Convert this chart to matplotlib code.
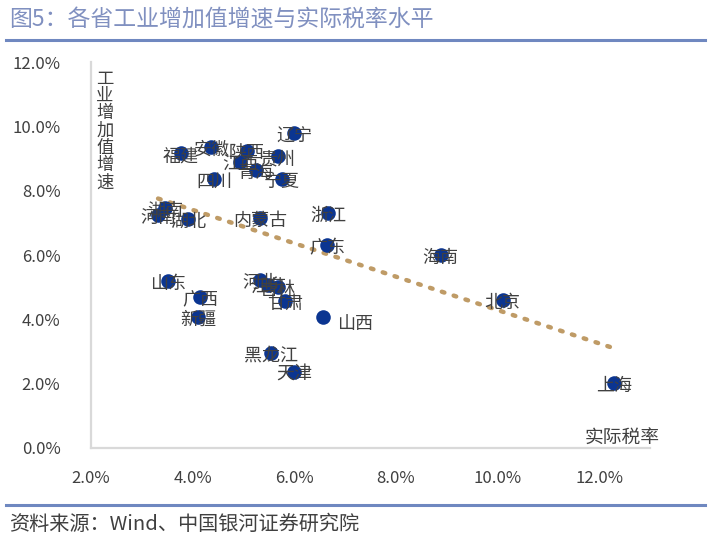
import matplotlib
matplotlib.use("Agg")
import matplotlib.pyplot as plt
import numpy as np

plt.rcParams['font.family'] = ['Noto Sans CJK SC', 'DejaVu Sans']

# 数据：实际税率 (%) 与 工业增加值增速 (%)
provinces = ["辽宁", "福建", "安徽", "陕西", "江西", "贵州", "青海", "宁夏", "四川",
             "湖南", "河南", "湖北", "内蒙古", "浙江", "广东", "海南", "北京", "上海",
             "山东", "广西", "新疆", "河北", "江苏", "吉林", "甘肃", "山西", "黑龙江", "天津"]
tax_rate = [6.00, 3.77, 4.37, 5.07, 4.94, 5.68, 5.25, 5.76, 4.42,
            3.46, 3.32, 3.91, 5.33, 6.67, 6.65, 8.88, 10.10, 12.30,
            3.52, 4.15, 4.11, 5.33, 5.49, 5.67, 5.82, 6.57, 5.55, 6.00]
growth = [9.78, 9.16, 9.35, 9.22, 8.88, 9.07, 8.63, 8.35, 8.35,
          7.45, 7.24, 7.11, 7.14, 7.30, 6.30, 5.99, 4.60, 2.02,
          5.19, 4.69, 4.07, 5.22, 5.06, 5.00, 4.56, 4.07, 2.95, 2.36]

# 图中趋势线（读取自原图）
trend_slope = -0.519
trend_intercept = 9.48

x = np.array(tax_rate)
y = np.array(growth)

blue = "#0b3591"
gray = "#404040"

fig = plt.figure(figsize=(7.25, 5.4), dpi=100)
ax = fig.add_axes([0.1255, 0.1704, 0.7711, 0.7146])

ax.scatter(x, y, s=110, color=blue, zorder=3, linewidths=0)

# 线性趋势线
xt = np.array([x.min(), x.max()])
ax.plot(xt, trend_slope * xt + trend_intercept, linestyle=(0, (0.6, 2.2)),
        color="#bf9b66", lw=3.2, dash_capstyle="round", zorder=2)

for name, px, py in zip(provinces, x, y):
    if name == "山西":
        ax.annotate(name, (px, py), xytext=(10, -5), textcoords="offset points",
                    ha="left", va="center", fontsize=13, color=gray, zorder=4)
    else:
        ax.annotate(name, (px, py), xytext=(0, -2), textcoords="offset points",
                    ha="center", va="center", fontsize=13, color=gray, zorder=4)

ax.set_xlim(2, 13)
ax.set_ylim(0, 12)
ax.set_xticks([2, 4, 6, 8, 10, 12])
ax.set_yticks([0, 2, 4, 6, 8, 10, 12])
ax.set_xticklabels(["2.0%", "4.0%", "6.0%", "8.0%", "10.0%", "12.0%"])
ax.set_yticklabels(["0.0%", "2.0%", "4.0%", "6.0%", "8.0%", "10.0%", "12.0%"])
ax.tick_params(length=0, labelsize=12, labelcolor=gray)
ax.tick_params(axis="x", pad=16)
ax.tick_params(axis="y", pad=22)
for s in ["top", "right"]:
    ax.spines[s].set_visible(False)
for s in ["left", "bottom"]:
    ax.spines[s].set_color("#d9d9d9")
    ax.spines[s].set_linewidth(1.6)

ax.text(0.025, 0.98, "工\n业\n增\n加\n值\n增\n速", transform=ax.transAxes,
        ha="center", va="top", fontsize=12.5, color=gray, linespacing=0.95)
ax.text(12.46, 0.32, "实际税率", ha="center", va="center", fontsize=13.5, color=gray)

fig.text(0.012, 0.965, "图5：各省工业增加值增速与实际税率水平", fontsize=16.5,
         color="#8090c0", ha="left", va="center")
fig.add_artist(plt.Line2D([0.008, 0.972], [0.926, 0.926], color="#6f88c0", lw=2.2))
fig.add_artist(plt.Line2D([0.008, 0.972], [0.065, 0.065], color="#6f88c0", lw=2.2))
fig.text(0.012, 0.028, "资料来源：Wind、中国银河证券研究院", fontsize=14.5,
         color=gray, ha="left", va="center", style="italic")

fig.savefig("out.png", dpi=100)
